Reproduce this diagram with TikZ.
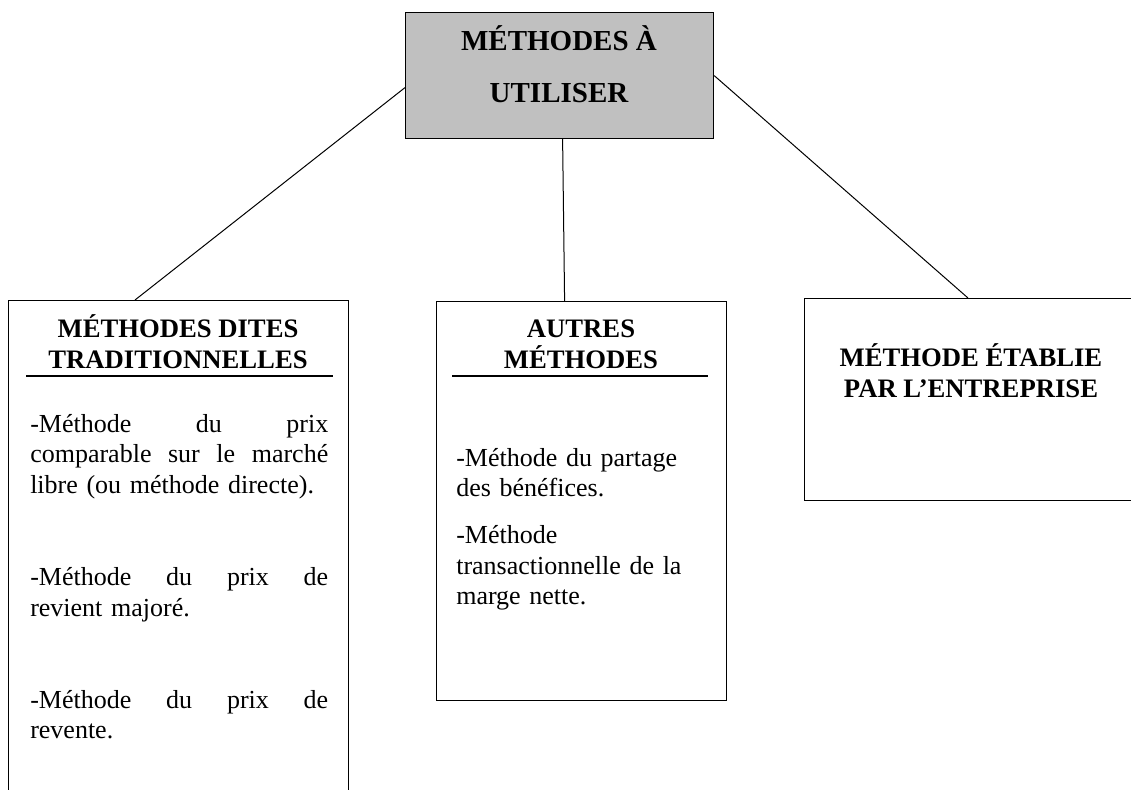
\documentclass[tikz,border=0pt]{standalone}
\usepackage{fontspec}
\setmainfont{Liberation Serif}
\usepackage{tikz}
\definecolor{boxgray}{HTML}{C0C0C0}

\begin{document}
\begin{tikzpicture}[x=0.75pt,y=-0.75pt,
  box/.style={draw,line width=0.9pt,rectangle,inner sep=0pt,anchor=north west},
  head/.style={font=\fontsize{20}{23.25}\selectfont\bfseries,align=center,inner sep=0pt,anchor=base},
  body/.style={font=\fontsize{19.5}{23}\selectfont,inner sep=0pt,anchor=base west},
  link/.style={line width=0.75pt}]
  \useasboundingbox (0,0) rectangle (1131,789);
  \clip (0,0) rectangle (1131,789);
  \node[box,fill=boxgray,minimum width=231pt,minimum height=94.5pt] (B-0) at (405,12) {};
  \node[box,minimum width=255pt,minimum height=390pt] (B-1) at (8,300) {};
  \node[box,minimum width=217.5pt,minimum height=299.25pt] (B-2) at (436,301) {};
  \node[box,minimum width=251.25pt,minimum height=151.5pt] (B-3) at (804,298) {};
  \node[head,font=\fontsize{21.75}{39}\selectfont\bfseries] (H-0) at (559,102) {MÉTHODES À\\UTILISER};
  \node[head] (H-1) at (178,368) {MÉTHODES DITES\\TRADITIONNELLES};
  \node[head] (H-2) at (581,368) {AUTRES\\MÉTHODES};
  \node[head] (H-3) at (971,397) {MÉTHODE ÉTABLIE\\PAR L’ENTREPRISE};
  \draw[line width=1pt] (26,376) -- (333,376);
  \draw[line width=1pt] (452,376) -- (708,376);
  \node[body,text width=223.5pt] (T-1) at (30,432) {-Méthode\hfill du\hfill prix\\comparable\hfill sur\hfill le\hfill marché\\libre (ou méthode directe).\\[46pt]-Méthode\hfill du\hfill prix\hfill de\\revient majoré.\\[46pt]-Méthode\hfill du\hfill prix\hfill de\\revente.};
  \node[body,text width=200pt,align=left] (T-2) at (456,466) {-Méthode du partage\\des bénéfices.\\[12pt]-Méthode\\transactionnelle de la\\marge nette.};
  \draw[link] ([yshift=-9pt]B-0.west) -- ([xshift=95.25pt]B-1.north west);
  \draw[link] ([xshift=2.25pt]B-0.south) -- ([xshift=-12.75pt]B-2.north);
  \draw[link] (B-0.east) -- ([xshift=123pt]B-3.north west);
\end{tikzpicture}
\end{document}
